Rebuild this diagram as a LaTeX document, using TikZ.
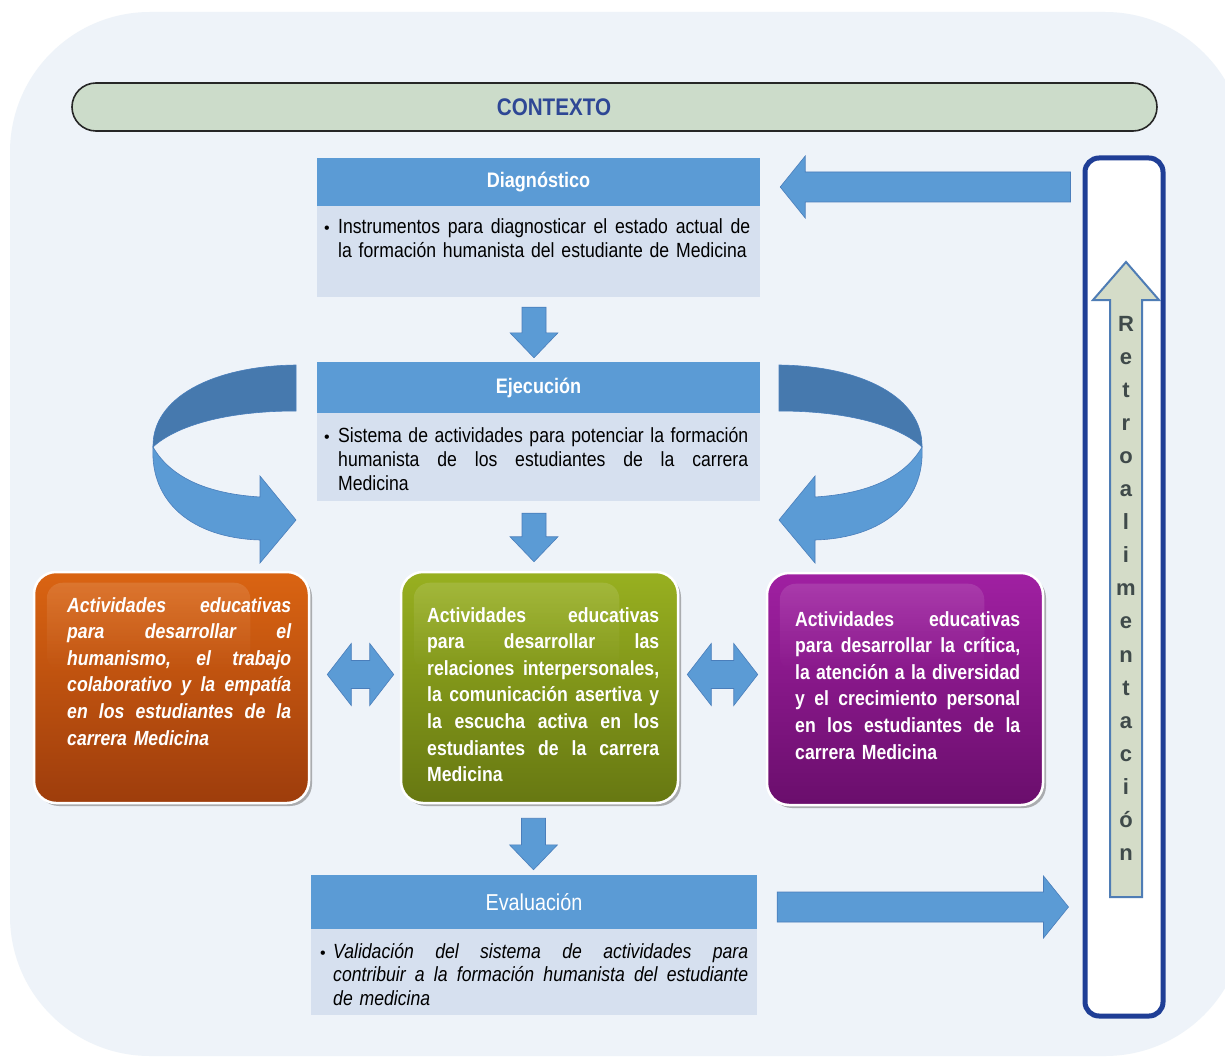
\documentclass[tikz,border=0pt]{standalone}
\usepackage{fontspec}
\setmainfont{Liberation Sans}
\newfontfamily\nar[FakeStretch=0.86]{Liberation Sans}
\usetikzlibrary{calc,shadows,fadings}

\definecolor{bgc}{HTML}{EEF3F9}
\definecolor{ctxfill}{HTML}{CCDCCA}
\definecolor{ctxtext}{HTML}{2E4795}
\definecolor{hdrc}{HTML}{5B9BD5}
\definecolor{bodyc}{HTML}{D6E0EF}
\definecolor{arrc}{HTML}{5B9BD5}
\definecolor{arredge}{HTML}{4A7EBB}
\definecolor{arrdark}{HTML}{4679AE}
\definecolor{orT}{HTML}{DA6412}
\definecolor{orB}{HTML}{9E3D0C}
\definecolor{grT}{HTML}{98B020}
\definecolor{grB}{HTML}{677812}
\definecolor{puT}{HTML}{A020A2}
\definecolor{puB}{HTML}{6A0E6C}
\definecolor{retroc}{HTML}{1F3E96}
\definecolor{retrofill}{HTML}{D4DCC8}
\definecolor{retroedge}{HTML}{4F7DB5}
\definecolor{retrotc}{HTML}{3F4A4A}

\def\jw{100pt}
% one justified line of width \jw
\newcommand\JL[1]{\leavevmode\hbox to \jw{\spaceskip=0.25em plus 1fil\relax #1}\\}

% block arrow pointing down: #1 tail point (its x is used), #2 tip point (its y is used)
\newcommand\dnarrow[2]{%
  \filldraw[barrow] let \p1=(#1), \p2=(#2) in
    (\x1-12pt,\y1) -- (\x1+12pt,\y1) -- (\x1+12pt,\y2+25pt) -- (\x1+24pt,\y2+25pt)
    -- (\x1,\y2) -- (\x1-24pt,\y2+25pt) -- (\x1-12pt,\y2+25pt) -- cycle;}
% block arrow pointing left: #1 tail (x,y used), #2 tip (x used)
\newcommand\lfarrow[2]{%
  \filldraw[barrow] let \p1=(#1), \p2=(#2) in
    (\x1,\y1+15pt) -- (\x2+25pt,\y1+15pt) -- (\x2+25pt,\y1+31pt) -- (\x2,\y1)
    -- (\x2+25pt,\y1-31pt) -- (\x2+25pt,\y1-15pt) -- (\x1,\y1-15pt) -- cycle;}
% block arrow pointing right: #1 tail (x,y used), #2 tip (x used)
\newcommand\rtarrow[2]{%
  \filldraw[barrow] let \p1=(#1), \p2=(#2) in
    (\x1,\y1+15pt) -- (\x2-25pt,\y1+15pt) -- (\x2-25pt,\y1+31pt) -- (\x2,\y1)
    -- (\x2-25pt,\y1-31pt) -- (\x2-25pt,\y1-15pt) -- (\x1,\y1-15pt) -- cycle;}
% double horizontal block arrow: #1 left tip (x,y), #2 right tip (x)
\newcommand\dbarrow[2]{%
  \filldraw[barrow] let \p1=(#1), \p2=(#2) in
    (\x1,\y1) -- (\x1+24pt,\y1+31pt) -- (\x1+24pt,\y1+14pt) -- (\x2-24pt,\y1+14pt)
    -- (\x2-24pt,\y1+31pt) -- (\x2,\y1) -- (\x2-24pt,\y1-31pt) -- (\x2-24pt,\y1-14pt)
    -- (\x1+24pt,\y1-14pt) -- (\x1+24pt,\y1-31pt) -- cycle;}
% curved (twisted) arrow, left version
\newcommand\curvarr{%
  \filldraw[fill=arrc, draw=arredge, line width=0.6pt]
    (153,-447) .. controls (172,-480) and (212,-494) .. (260,-497)
    -- (260,-476) -- (296,-520) -- (260,-563) -- (260,-540)
    .. controls (192,-538) and (150,-502) .. (153,-447) -- cycle;
  \filldraw[fill=arrdark, draw=arredge, line width=0.6pt]
    (296,-365) .. controls (212,-366) and (152,-398) .. (153,-447)
    .. controls (176,-426) and (225,-411) .. (296,-411) -- cycle;}

\begin{document}
\begin{tikzpicture}[x=1pt,y=1pt,
  hdr/.style={fill=hdrc, minimum width=443pt, minimum height=48pt, inner sep=0pt,
    text=white, font=\nar\fontsize{21}{24}\selectfont\bfseries},
  bodybox/.style={fill=bodyc, minimum width=443pt, inner sep=0pt},
  btxt/.style={anchor=base west, inner sep=0pt, text width=#1,
    execute at begin node={\def\jw{#1}},
    font=\nar\fontsize{20.5}{24}\selectfont, align=left},
  bul/.style={anchor=base, inner sep=0pt, font=\fontsize{16}{24}\selectfont},
  cbox/.style 2 args={rounded corners=22pt, draw=white, line width=2.5pt,
    top color=#1, bottom color=#2, minimum height=231pt, inner sep=0pt,
    drop shadow={shadow xshift=3pt, shadow yshift=-3pt, fill=black!55, opacity=0.55}},
  ctxt/.style={anchor=base west, inner sep=0pt, text=white, text width=#1, align=left,
    execute at begin node={\def\jw{#1}},
    font=\nar\fontsize{20.5}{26.6}\selectfont\bfseries},
  gloss/.style={fill=white, fill opacity=0.12, path fading=south, rounded corners=16pt},
  barrow/.style={fill=arrc, draw=arredge, line width=0.6pt},
  retrol/.style={anchor=base, inner sep=0pt, text=retrotc,
    font=\fontsize{22}{22}\selectfont\bfseries},
]
\useasboundingbox (0,0) rectangle (1225,-1059);
\fill[white] (0,0) rectangle (1225,-1059);
\fill[bgc, rounded corners=140pt] (10,-12) rectangle (1245,-1056);

% CONTEXTO
\node[draw=black!85, line width=1.6pt, fill=ctxfill, rounded corners=24pt,
  minimum width=1085pt, minimum height=48pt, inner sep=0pt] (ctx) at (614.5,-107) {};
\node[text=ctxtext, font=\nar\fontsize{24}{26}\selectfont\bfseries, inner sep=0pt]
  (ctxl) at (554,-107) {CONTEXTO};

% Diagnostico
\node[hdr] (dh) at (538.5,-182) {Diagnóstico};
\node[bodybox, minimum height=91pt] (db) at (538.5,-251.5) {};
\node[bul] (dbul) at (327,-234) {•};
\node[btxt=412pt] (dtx) at (338,-234)
  {\JL{Instrumentos para diagnosticar el estado actual de}la formación humanista del estudiante de Medicina};

% Ejecucion
\node[hdr, minimum height=51pt] (jh) at (538.5,-387.5) {Ejecución};
\node[bodybox, minimum height=88pt] (jb) at (538.5,-457) {};
\node[bul] (jbul) at (327,-442) {•};
\node[btxt=410pt] (jtx) at (338,-442)
  {\JL{Sistema de actividades para potenciar la formación}\JL{humanista de los estudiantes de la carrera}Medicina};

% Evaluacion
\node[hdr, minimum width=446pt, minimum height=54pt,
  font=\nar\fontsize{23}{26}\selectfont] (eh) at (534,-902) {Evaluación};
\node[bodybox, minimum width=446pt, minimum height=86pt] (eb) at (534,-972) {};
\node[bul] (ebul) at (323,-958) {•};
\node[btxt=415pt, font=\nar\fontsize{20.5}{23.5}\selectfont\itshape] (etx) at (333,-958)
  {\JL{Validación del sistema de actividades para}\JL{contribuir a la formación humanista del estudiante}de medicina};

% three coloured boxes
\node[cbox={orT}{orB}, minimum width=275pt] (ob) at (171.5,-687.5) {};
\node[cbox={grT}{grB}, minimum width=277pt] (gb) at (539.5,-687.5) {};
\node[cbox={puT}{puB}, minimum width=276pt, minimum height=232pt] (pb) at (905,-689) {};
\fill[gloss] ($(ob.north west)+(14,-12)$) rectangle ($(ob.north east)+(-60,-100)$);
\fill[gloss] ($(gb.north west)+(14,-12)$) rectangle ($(gb.north east)+(-60,-100)$);
\fill[gloss] ($(pb.north west)+(14,-12)$) rectangle ($(pb.north east)+(-60,-100)$);

\node[ctxt=224pt, font=\nar\fontsize{20.5}{26.6}\selectfont\bfseries\itshape] (otx) at (67,-612)
  {\JL{Actividades educativas}\JL{para desarrollar el}\JL{humanismo, el trabajo}\JL{colaborativo y la empatía}\JL{en los estudiantes de la}carrera Medicina};
\node[ctxt=232pt] (gtx) at (427,-622)
  {\JL{Actividades educativas}\JL{para desarrollar las}\JL{relaciones interpersonales,}\JL{la comunicación asertiva y}\JL{la escucha activa en los}\JL{estudiantes de la carrera}Medicina};
\node[ctxt=225pt] (ptx) at (795,-626)
  {\JL{Actividades educativas}\JL{para desarrollar la crítica,}\JL{la atención a la diversidad}\JL{y el crecimiento personal}\JL{en los estudiantes de la}carrera Medicina};

% Retroalimentacion
\node[draw=retroc, line width=5pt, fill=white, rounded corners=14pt,
  minimum width=78pt, minimum height=858pt, inner sep=0pt] (rb) at (1124,-587) {};
\coordinate (rtip) at ($(rb.north)+(2,-106.5)$);
\coordinate (rbot) at ($(rb.south)+(2,121.5)$);
\filldraw[fill=retrofill, draw=retroedge, line width=2pt] let \p1=(rtip), \p2=(rbot) in
  (\x1,\y1) -- (\x1+33pt,\y1-38pt) -- (\x1+16pt,\y1-38pt) -- (\x1+16pt,\y2)
  -- (\x1-16pt,\y2) -- (\x1-16pt,\y1-38pt) -- (\x1-33pt,\y1-38pt) -- cycle;
\foreach \l [count=\i] in {R,e,t,r,o,a,l,i,m,e,n,t,a,c,i,ó,n}
  \node[retrol] (rl\i) at (1126,{-331-33.1*(\i-1)}) {\l};

% straight block arrows
\lfarrow{$(rb.west |- dh.center)+(-12,-5)$}{$(dh.east)+(20,0)$}
\dnarrow{$(db.south)+(-4.5,-10)$}{$(jh.north)+(0,4)$}
\dnarrow{$(jb.south)+(-4.5,-12)$}{$(gb.north)+(0,9)$}
\dnarrow{$(gb.south)+(-6,-14)$}{$(eh.north)+(0,5)$}
\rtarrow{$(eh.east)+(20,-5)$}{$(rb.west)+(-14,0)$}
\dbarrow{$(ob.east)+(17,13)$}{$(gb.west)+(-6,0)$}
\dbarrow{$(gb.east)+(8,13)$}{$(pb.west)+(-8,0)$}

% curved arrows
\curvarr
\begin{scope}[xshift=1075pt, xscale=-1]
  \curvarr
\end{scope}
\end{tikzpicture}
\end{document}
